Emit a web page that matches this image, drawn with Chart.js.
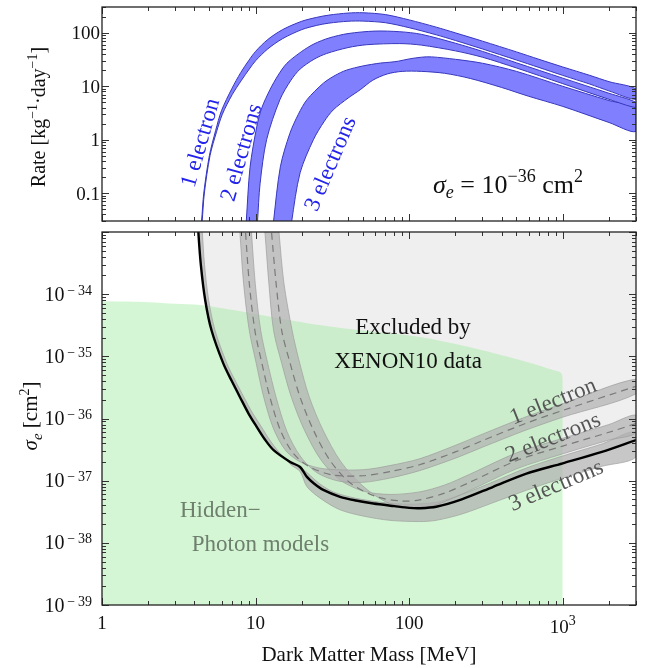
<!DOCTYPE html>
<html><head><meta charset="utf-8">
<script src="https://cdn.jsdelivr.net/npm/chart.js@4.4.1/dist/chart.umd.min.js"></script>
<style>
html,body{margin:0;padding:0;background:#fff;}
#wrap{position:relative;width:651px;height:668px;}
canvas{position:absolute;left:0;top:0;}
</style></head><body>
<div id="wrap"><canvas id="cTop" width="651" height="668"></canvas><canvas id="cBot" width="651" height="668"></canvas></div>
<script>
// ---------- DATA (mass in MeV, rate in kg^-1 day^-1, cross-section in cm^2) ----------
// Top panel: rate bands for sigma_e = 1e-36 cm^2
const rate1eUpper = [[4.38,0.02],[4.45,0.03],[4.6,0.1],[5,0.5],[5.5,1.5],[6,3.5],[7,9],[8,18],[9,30],[10,45],[12,75],[15,115],[20,165],[25,195],[30,215],[40,235],[50,238],[70,220],[100,175],[150,128],[200,100],[300,70],[500,44],[700,32],[1000,23],[1500,16],[2000,12.2],[3000,8.9]];
const rate1eLower = [[4.42,0.02],[4.49,0.03],[4.64,0.1],[5.05,0.5],[5.57,1.4],[6.08,3],[7.05,7],[8.1,13],[9.1,21],[10,30],[12,50],[15,78],[20,115],[25,138],[30,152],[40,165],[50,166],[70,155],[100,125],[150,92],[200,72],[300,50],[500,31],[700,22.5],[1000,16],[1500,11],[2000,8.2],[3000,5.7]];
const rate2eUpper = [[8.6,0.02],[8.7,0.03],[9.2,0.3],[10.2,1.8],[11,4],[12.4,8.6],[14,16],[16,27],[20,45],[24,62],[30,80],[40,97],[60,108],[87,105],[120,94],[200,64],[300,45],[500,27.5],[1000,14.2],[2000,7.4],[3000,5.0]];
const rate2eLower = [[10.2,0.02],[10.3,0.03],[10.7,0.15],[11.8,1],[14.4,5.6],[17,13],[19.5,21],[24,32],[29,41],[40,53],[53,60],[87,63],[120,59],[200,46],[300,35],[500,22],[1000,11.2],[2000,5.7],[3000,4.0]];
const rate3eUpper = [[13,0.02],[13.1,0.03],[14.5,0.31],[16.7,1.3],[19,3],[21.6,5.6],[27.6,11.4],[33,16],[39,20],[50,24],[65,27.2],[75,28.2],[85,29.5],[100,32.5],[120,35],[140,35.5],[200,32],[300,27],[500,19],[1000,10],[2000,5.4],[3000,3.9]];
const rate3eLower = [[17.1,0.02],[17.2,0.03],[19.5,0.24],[23.8,1],[28,2.2],[32,3.6],[40,6],[48,8.6],[58,13],[72,17],[90,19],[120,19],[170,17.5],[250,14],[400,9.5],[600,6.5],[1000,4.2],[2000,2.1],[3000,1.43]];

// Bottom panel: limits on sigma_e
const xenon10Limit = [[4.22,1.5e-33],[4.24,1e-33],[4.4,3e-34],[4.7,8e-35],[5.17,2.6e-35],[6.16,7.7e-36],[7,4e-36],[7.92,2.2e-36],[9,1.2e-36],[10.15,7.4e-37],[11.5,4.6e-37],[13.1,3.1e-37],[16.8,2e-37],[19.5,1.66e-37],[21.6,1.15e-37],[24,9e-38],[27.6,7.1e-38],[35.5,5.5e-38],[45,4.8e-38],[58.5,4.3e-38],[80,3.9e-38],[100,3.65e-38],[117,3.6e-38],[150,3.8e-38],[220,5e-38],[350,7.9e-38],[580,1.3e-37],[1000,1.9e-37],[1800,2.9e-37],[3000,4.5e-37]];
const limit1eCentral = [[8.5,1.5e-33],[8.6,1e-33],[9.1,1.5e-34],[9.9,2.6e-35],[11,7.7e-36],[12.4,2.2e-36],[14.5,6.5e-37],[17.6,2.75e-37],[22.6,1.66e-37],[32,1.23e-37],[50,1.2e-37],[75,1.4e-37],[117,1.8e-37],[200,2.9e-37],[300,4.4e-37],[556,8.1e-37],[1000,1.35e-36],[3000,3.3e-36]];
const limit1eUpper = [[7.8,1.5e-33],[7.9,1e-33],[8.35,1.5e-34],[9.1,2.6e-35],[10.1,7.7e-36],[11.3,2.2e-36],[13.1,6.8e-37],[15.8,3e-37],[20,1.95e-37],[28,1.55e-37],[50,1.5e-37],[75,1.75e-37],[117,2.25e-37],[200,3.7e-37],[300,5.6e-37],[556,1.03e-36],[1000,1.73e-36],[3000,4.3e-36]];
const limit1eLower = [[9.3,1.5e-33],[9.4,1e-33],[9.95,1.5e-34],[10.8,2.6e-35],[12,7.7e-36],[13.6,2.2e-36],[16,6.2e-37],[19.5,2.5e-37],[25,1.35e-37],[35,9.8e-38],[50,9.4e-38],[75,1.1e-37],[117,1.45e-37],[200,2.3e-37],[300,3.45e-37],[556,6.3e-37],[1000,1.05e-36],[3000,2.5e-36]];
const limit2eCentral = [[12.5,1.5e-33],[12.7,1e-33],[13.6,1.5e-34],[14.8,2.6e-35],[16.8,7.7e-36],[19.5,2.2e-36],[23.8,6.5e-37],[30.6,2.1e-37],[41.5,9.1e-38],[61.6,5.5e-38],[90,4.7e-38],[117,4.9e-38],[170,6.3e-38],[250,9.5e-38],[500,2.1e-37],[1000,3.6e-37],[2000,6e-37],[3000,8.3e-37]];
const limit2eUpper = [[11.3,1.5e-33],[11.5,1e-33],[12.2,1.5e-34],[13.1,2.6e-35],[14.8,7.7e-36],[17.1,2.2e-36],[20.8,6.5e-37],[26.5,2.2e-37],[35,1.05e-37],[50,6.8e-38],[75,6e-38],[117,6.6e-38],[170,8.5e-38],[250,1.28e-37],[500,2.8e-37],[1000,4.8e-37],[2000,8e-37],[3000,1.13e-36]];
const limit2eLower = [[14,1.5e-33],[14.2,1e-33],[15.3,1.5e-34],[17.3,2.6e-35],[19.4,7.7e-36],[22.4,2.2e-36],[27.5,6.5e-37],[36,2e-37],[50,8.2e-38],[70,4.6e-38],[100,3.6e-38],[130,3.7e-38],[170,4.6e-38],[250,7e-38],[500,1.55e-37],[1000,2.7e-37],[2000,4.5e-37],[3000,5.9e-37]];
const limit3eUpper = [[4.2,1.5e-33],[4.24,1e-33],[4.4,3e-34],[4.7,8e-35],[5.17,2.6e-35],[6.16,7.7e-36],[7,4e-36],[7.92,2.2e-36],[9,1.2e-36],[10.15,7.4e-37],[11.5,4.6e-37],[13.1,3.1e-37],[16.8,2e-37],[19.5,1.66e-37],[22,1.3e-37],[26,9e-38],[32,6.6e-38],[45,5.2e-38],[70,4.4e-38],[100,4.2e-38],[150,4.5e-38],[220,6e-38],[350,9.5e-38],[580,1.6e-37],[1000,2.5e-37],[1800,3.9e-37],[3000,6.1e-37]];
const limit3eLower = [[4.45,1.5e-33],[4.5,1e-33],[4.65,3e-34],[4.95,8e-35],[5.45,2.6e-35],[6.5,7.7e-36],[7.4,4e-36],[8.4,2.2e-36],[9.6,1.2e-36],[10.9,7.4e-37],[12.3,4.6e-37],[14,3e-37],[17,1.8e-37],[19.5,1.4e-37],[21.6,8e-38],[27,5e-38],[35.5,3.4e-38],[50,2.7e-38],[75,2.3e-38],[117,2.2e-38],[150,2.3e-38],[220,2.9e-38],[350,4.4e-38],[580,7e-38],[1000,1.1e-37],[1800,1.7e-37],[3000,2.4e-37]];
const hiddenPhotonTop = [[1,7.7e-35],[1.5,7.6e-35],[2,7.4e-35],[3,7e-35],[4.35,6.7e-35],[7,5.6e-35],[10,4.8e-35],[15,4e-35],[26,3.2e-35],[50,2.6e-35],[117,2.05e-35],[250,1.4e-35],[527,8.7e-36],[800,6.4e-36],[955,5.6e-36],[985,5.2e-36],[1000,4.4e-36]];

// Tick labels
const massTicks = [1, 10, 100, 1000];
const massTickLabels = [['1'], ['10'], ['100'], ['10', '3']];
const rateTicks = [0.1, 1, 10, 100];
const rateTickLabels = ['0.1', '1', '10', '100'];
const sigmaTickExps = [-39, -38, -37, -36, -35, -34];

// Text
const topBandLabels = ['1 electron', '2 electrons', '3 electrons'];
const botBandLabels = ['1 electron', '2 electrons', '3 electrons'];

// ---------- helpers ----------
const FAM = '"Liberation Serif","Times New Roman",serif';
const TENSION = 0.3;
const xy = arr => arr.map(([x, y]) => ({x, y}));
const poly = (up, lo) => xy(up).concat(xy(lo).reverse());
function fnt(p) { return (p.i ? 'italic ' : '') + p.s + 'px ' + FAM; }
function rich(ctx, parts, x, y, align) {
  let w = 0;
  const ms = parts.map(p => { ctx.font = fnt(p); const m = ctx.measureText(p.t).width; w += m; return m; });
  let cx = align === 'right' ? x - w : align === 'center' ? x - w / 2 : x;
  ctx.textAlign = 'left'; ctx.textBaseline = 'alphabetic';
  parts.forEach((p, i) => { ctx.font = fnt(p); ctx.fillText(p.t, cx, y + (p.dy || 0)); cx += ms[i]; });
}
function rotText(ctx, text, size, color, px, py, deg) {
  ctx.save(); ctx.translate(px, py); ctx.rotate(deg * Math.PI / 180);
  ctx.fillStyle = color; ctx.font = size + 'px ' + FAM; ctx.textAlign = 'center'; ctx.textBaseline = 'middle';
  ctx.fillText(text, 0, 0); ctx.restore();
}
function logTicks(min, max) {
  const out = [];
  for (let d = Math.floor(Math.log10(min)); d <= Math.ceil(Math.log10(max)); d++)
    for (let k = 1; k <= 9; k++) { const v = k * Math.pow(10, d); if (v >= min * 0.999 && v <= max * 1.001) out.push([v, k === 1]); }
  return out;
}
function frameTicks(chart) {
  const {ctx, chartArea: a, scales: {x, y}} = chart;
  ctx.save(); ctx.strokeStyle = '#333'; ctx.lineWidth = 1; ctx.beginPath();
  logTicks(x.min, x.max).forEach(([v, maj]) => {
    const p = Math.round(x.getPixelForValue(v)) + 0.5, L = maj ? 7 : 4;
    ctx.moveTo(p, a.bottom); ctx.lineTo(p, a.bottom - L); ctx.moveTo(p, a.top); ctx.lineTo(p, a.top + L);
  });
  logTicks(y.min, y.max).forEach(([v, maj]) => {
    const p = Math.round(y.getPixelForValue(v)) + 0.5, L = maj ? 7 : 4;
    ctx.moveTo(a.left, p); ctx.lineTo(a.left + L, p); ctx.moveTo(a.right, p); ctx.lineTo(a.right - L, p);
  });
  ctx.stroke();
  ctx.lineWidth = 1.3; ctx.strokeStyle = '#222';
  ctx.strokeRect(a.left, a.top, a.right - a.left, a.bottom - a.top);
  ctx.restore();
}
const baseScales = (ymin, ymax) => ({
  x: {type: 'logarithmic', min: 1, max: 3000, display: false},
  y: {type: 'logarithmic', min: ymin, max: ymax, display: false}
});
const common = {responsive: false, animation: false, devicePixelRatio: 1, events: [],
  plugins: {legend: {display: false}, tooltip: {enabled: false}}};

// ---------- TOP chart ----------
const blueFill = 'rgb(128,128,255)', blueLine = 'rgb(55,55,190)';
const bandTop = (up, lo, ord) => ({data: poly(up, lo), showLine: true, pointRadius: 0, borderWidth: 1,
  borderColor: blueLine, backgroundColor: blueFill, fill: 'shape', order: ord, tension: TENSION});
new Chart(document.getElementById('cTop'), {
  type: 'scatter',
  data: {datasets: [bandTop(rate1eUpper, rate1eLower, 1), bandTop(rate2eUpper, rate2eLower, 2), bandTop(rate3eUpper, rate3eLower, 3)]},
  options: Object.assign({}, common, {
    layout: {padding: {left: 102, right: 15, top: 7, bottom: 447}},
    scales: baseScales(0.03, 305)
  }),
  plugins: [{id: 'topDeco', afterDraw(chart) {
    const {ctx, chartArea: a, scales: {x, y}} = chart;
    frameTicks(chart);
    ctx.save(); ctx.fillStyle = '#111';
    rateTicks.forEach((v, i) => rich(ctx, [{t: rateTickLabels[i], s: 19}], a.left - 2, y.getPixelForValue(v) + 6.5, 'right'));
    ctx.translate(45, 117); ctx.rotate(-Math.PI / 2);
    rich(ctx, [{t: 'Rate [kg', s: 20}, {t: '\u22121', s: 14, dy: -8}, {t: '\u00B7day', s: 20}, {t: '\u22121', s: 14, dy: -8}, {t: ']', s: 20}], 0, 0, 'center');
    ctx.restore();
    const blue = 'rgb(35,35,235)';
    rotText(ctx, topBandLabels[0], 23, blue, x.getPixelForValue(4.42), y.getPixelForValue(0.87), -74);
    rotText(ctx, topBandLabels[1], 23, blue, x.getPixelForValue(8.17), y.getPixelForValue(0.57), -74);
    rotText(ctx, topBandLabels[2], 23, blue, x.getPixelForValue(31), y.getPixelForValue(0.35), -67);
    ctx.save(); ctx.fillStyle = '#111';
    rich(ctx, [{t: '\u03C3', s: 26, i: 1}, {t: 'e', s: 18, i: 1, dy: 5}, {t: ' = 10', s: 26}, {t: '\u221236', s: 18, dy: -11}, {t: ' cm', s: 26}, {t: '2', s: 18, dy: -11}],
      x.getPixelForValue(143), y.getPixelForValue(0.1), 'left');
    ctx.restore();
  }}]
});

// ---------- BOTTOM chart ----------
const grayFill = 'rgba(178,178,178,0.72)', grayLine = 'rgba(155,155,155,0.85)';
const bandBot = (up, lo, ord) => ({data: poly(up, lo), showLine: true, pointRadius: 0, borderWidth: 0.8,
  borderColor: grayLine, backgroundColor: grayFill, fill: 'shape', order: ord, tension: TENSION});
const dashed = (arr) => ({data: xy(arr), showLine: true, pointRadius: 0, borderWidth: 1.2, borderColor: '#7a7a7a',
  borderDash: [7, 5], fill: false, order: 1, tension: TENSION});
new Chart(document.getElementById('cBot'), {
  type: 'scatter',
  data: {datasets: [
    {data: xy(xenon10Limit), showLine: true, pointRadius: 0, borderWidth: 2.4, borderColor: '#000', fill: false, order: 0, tension: TENSION},
    dashed(limit1eCentral), dashed(limit2eCentral),
    bandBot(limit1eUpper, limit1eLower, 3), bandBot(limit2eUpper, limit2eLower, 4), bandBot(limit3eUpper, limit3eLower, 5),
    {data: xy(hiddenPhotonTop), showLine: true, pointRadius: 0, borderWidth: 0, backgroundColor: 'rgba(160,236,160,0.45)', fill: 'start', order: 8, tension: TENSION},
    {data: xy(xenon10Limit), showLine: true, pointRadius: 0, borderWidth: 0, backgroundColor: '#efefef', fill: 'end', order: 9, tension: TENSION}
  ]},
  options: Object.assign({}, common, {
    layout: {padding: {left: 102, right: 15, top: 232, bottom: 63}},
    scales: baseScales(1e-39, 1e-33)
  }),
  plugins: [{id: 'botDeco', afterDraw(chart) {
    const {ctx, chartArea: a, scales: {x, y}} = chart;
    frameTicks(chart);
    ctx.save(); ctx.fillStyle = '#111';
    sigmaTickExps.forEach(e => rich(ctx, [{t: '10', s: 20}, {t: '\u2009\u2212\u2009' + Math.abs(e), s: 14, dy: -6}], a.left - 10, y.getPixelForValue(Math.pow(10, e)) + 6.5, 'right'));
    massTicks.forEach((v, i) => {
      const lab = massTickLabels[i];
      if (lab.length === 1) rich(ctx, [{t: lab[0], s: 19}], x.getPixelForValue(v), 629, 'center');
      else rich(ctx, [{t: lab[0], s: 19}, {t: lab[1], s: 14, dy: -8}], x.getPixelForValue(v), 633, 'center');
    });
    rich(ctx, [{t: 'Dark Matter Mass [MeV]', s: 21}], 369, 661, 'center');
    ctx.translate(37, 416); ctx.rotate(-Math.PI / 2);
    rich(ctx, [{t: '\u03C3', s: 21, i: 1}, {t: 'e', s: 15, i: 1, dy: 5}, {t: ' [cm', s: 21}, {t: '2', s: 14, dy: -8}, {t: ']', s: 21}], 0, 0, 'center');
    ctx.restore();
    ctx.save(); ctx.fillStyle = '#111';
    rich(ctx, [{t: 'Excluded by', s: 23}], x.getPixelForValue(106), y.getPixelForValue(2.27e-35), 'center');
    rich(ctx, [{t: 'XENON10 data', s: 23}], x.getPixelForValue(98.5), y.getPixelForValue(6.46e-36), 'center');
    ctx.fillStyle = '#6e7f6e';
    rich(ctx, [{t: 'Hidden\u2212', s: 23}], x.getPixelForValue(3.22), y.getPixelForValue(2.6e-38), 'left');
    rich(ctx, [{t: 'Photon models', s: 23}], x.getPixelForValue(3.84), y.getPixelForValue(7.4e-39), 'left');
    ctx.restore();
    const g = '#555';
    rotText(ctx, botBandLabels[0], 23, g, x.getPixelForValue(867), y.getPixelForValue(1.84e-36), -22);
    rotText(ctx, botBandLabels[1], 23, g, x.getPixelForValue(867), y.getPixelForValue(4.84e-37), -22);
    rotText(ctx, botBandLabels[2], 23, g, x.getPixelForValue(907), y.getPixelForValue(8.2e-38), -23);
  }}]
});
</script>
</body></html>
